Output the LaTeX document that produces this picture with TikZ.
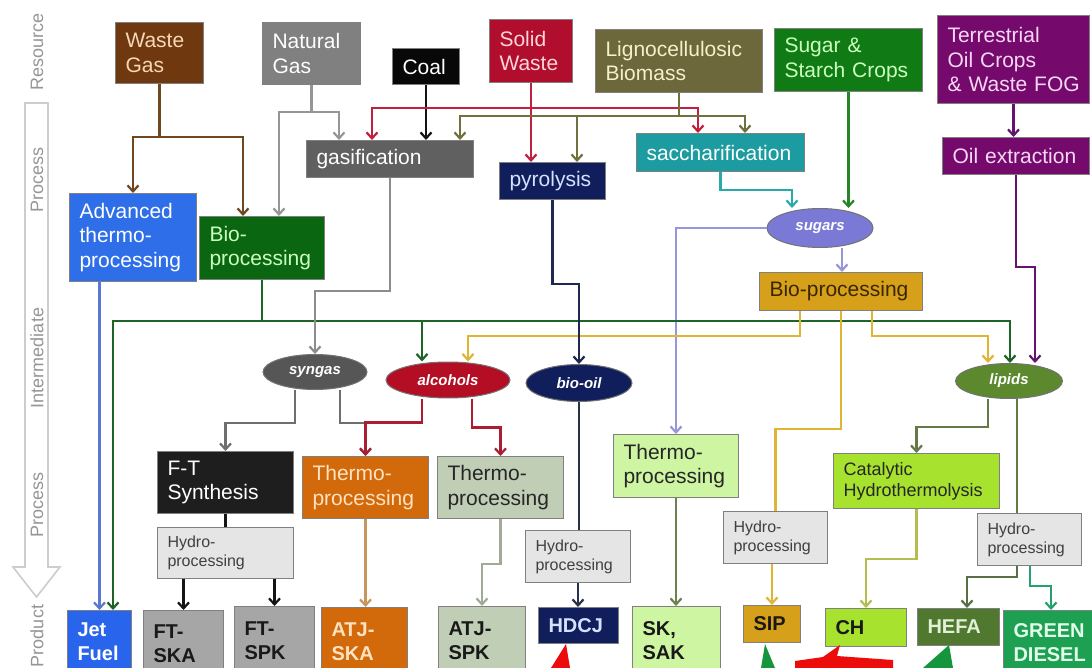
\documentclass[tikz,border=0pt]{standalone}
\usepackage{fontspec}
\setmainfont{Liberation Sans}
\usetikzlibrary{arrows.meta, shapes.geometric}
% box fills
\definecolor{wasteBrown}{RGB}{112, 56, 14}
\definecolor{natGray}{RGB}{128, 128, 128}
\definecolor{coalBlack}{RGB}{8, 8, 8}
\definecolor{solidRed}{RGB}{176, 14, 44}
\definecolor{lignoOlive}{RGB}{108, 104, 60}
\definecolor{sugarGreen}{RGB}{16, 122, 20}
\definecolor{oilPurple}{RGB}{118, 10, 108}
\definecolor{gasGray}{RGB}{96, 96, 96}
\definecolor{pyroNavy}{RGB}{16, 30, 92}
\definecolor{sacchTeal}{RGB}{28, 156, 160}
\definecolor{advBlue}{RGB}{46, 110, 232}
\definecolor{bioGreen}{RGB}{10, 102, 16}
\definecolor{sugarsBlue}{RGB}{122, 122, 214}
\definecolor{bioGold}{RGB}{214, 160, 26}
\definecolor{syngasGray}{RGB}{86, 86, 86}
\definecolor{alcRed}{RGB}{180, 14, 36}
\definecolor{lipidGreen}{RGB}{92, 136, 46}
\definecolor{ftBlack}{RGB}{30, 30, 30}
\definecolor{thermoOrange}{RGB}{210, 106, 12}
\definecolor{thermoSage}{RGB}{192, 206, 182}
\definecolor{thermoLight}{RGB}{206, 245, 162}
\definecolor{catLime}{RGB}{166, 226, 46}
\definecolor{hydroGray}{RGB}{229, 229, 229}
\definecolor{jetBlue}{RGB}{40, 100, 236}
\definecolor{ftGray}{RGB}{166, 166, 166}
\definecolor{hefaGreen}{RGB}{80, 120, 46}
\definecolor{dieselGreen}{RGB}{30, 160, 82}
\definecolor{hiRed}{RGB}{236, 12, 12}
\definecolor{hiGreen}{RGB}{22, 150, 60}
% text tints
\definecolor{wasteText}{RGB}{246, 216, 182}
\definecolor{solidText}{RGB}{255, 212, 218}
\definecolor{lignoText}{RGB}{246, 240, 202}
\definecolor{sugarText}{RGB}{202, 255, 190}
\definecolor{oilText}{RGB}{246, 216, 246}
\definecolor{pyroText}{RGB}{212, 226, 255}
\definecolor{goldText}{RGB}{58, 38, 0}
\definecolor{orangeText}{RGB}{255, 226, 192}
\definecolor{hefaText}{RGB}{226, 240, 216}
\definecolor{dieselText}{RGB}{226, 255, 236}
% connector colours
\definecolor{wasteLine}{RGB}{112, 72, 32}
\definecolor{natLine}{RGB}{150, 150, 150}
\definecolor{coalLine}{RGB}{20, 20, 20}
\definecolor{solidLine}{RGB}{192, 32, 62}
\definecolor{lignoLine}{RGB}{112, 112, 62}
\definecolor{sugarLine}{RGB}{40, 132, 40}
\definecolor{oilLine}{RGB}{100, 20, 110}
\definecolor{sacchLine}{RGB}{40, 170, 170}
\definecolor{sugarsLine}{RGB}{150, 150, 216}
\definecolor{advLine}{RGB}{90, 120, 210}
\definecolor{bioLine}{RGB}{30, 100, 40}
\definecolor{goldLine}{RGB}{222, 182, 52}
\definecolor{gasLine}{RGB}{140, 140, 140}
\definecolor{pyroLine}{RGB}{30, 40, 80}
\definecolor{synLine}{RGB}{110, 110, 110}
\definecolor{alcLine}{RGB}{170, 30, 50}
\definecolor{bioOilLine}{RGB}{40, 50, 70}
\definecolor{lightLine}{RGB}{110, 130, 80}
\definecolor{orangeLine}{RGB}{200, 150, 92}
\definecolor{sageLine}{RGB}{160, 170, 150}
\definecolor{ftLine}{RGB}{20, 20, 20}
\definecolor{lipidLine}{RGB}{100, 122, 70}
\definecolor{catLine}{RGB}{180, 190, 80}
\definecolor{hefaLine}{RGB}{90, 110, 70}
\definecolor{dieselLine}{RGB}{40, 160, 110}
\definecolor{stageLine}{RGB}{205, 205, 205}
\definecolor{stageText}{RGB}{150, 150, 150}
\newcommand{\fbig}{\fontsize{10.5}{12.3}\selectfont}
\newcommand{\fcat}{\fontsize{9}{10.5}\selectfont}
\newcommand{\fhyd}{\fontsize{8}{9.5}\selectfont}
\newcommand{\fell}{\fontsize{7.5}{8}\selectfont\bfseries\itshape}
\newcommand{\fprod}{\fontsize{10}{11.8}\selectfont\bfseries}
\newcommand{\fside}{\fontsize{9}{10}\selectfont}
\tikzset{
  procbox/.style 2 args={
    rectangle,
    draw=black!50,
    line width=0.5pt,
    anchor=north west,
    minimum height=#2*0.5pt,
    text width=#1*0.5pt-10pt,
    inner xsep=5pt,
    inner ysep=0pt,
    align=left,
    font=\fbig
  },
  hydbox/.style 2 args={
    procbox={#1}{#2},
    fill=hydroGray,
    text=black!75,
    font=\fhyd
  },
  prodbox/.style 2 args={
    procbox={#1}{#2},
    font=\fprod
  },
  midnode/.style 2 args={
    ellipse,
    draw=black!55,
    line width=0.5pt,
    minimum width=#1*0.5pt,
    minimum height=#2*0.5pt,
    inner sep=0pt,
    font=\fell
  },
  link/.style={
    line width=1.1pt,
    -{Straight Barb[length=3pt, width=5.5pt]}
  },
  wire/.style={
    line width=1.1pt
  },
  stagelabel/.style={
    rotate=90,
    text=stageText,
    font=\fside
  }
}
\begin{document}
\begin{tikzpicture}[x=0.5pt, y=-0.5pt]
  \useasboundingbox (0,0) rectangle (1092,668);
  \clip (0,0) rectangle (1092,668);
  \fill[white] (0,0) rectangle (1092,668);

  % Stage arrow
  \draw[stageLine, line width=0.8pt, fill=white] (25,103) -- (48,103) -- (48,567) -- (60,567) -- (36.5,597) -- (13,567) -- (25,567) -- cycle;
  \node[stagelabel] (lblres) at (37,52) {Resource};
  \node[stagelabel] (lblproca) at (37,180) {Process};
  \node[stagelabel] (lblinter) at (37,358) {Intermediate};
  \node[stagelabel] (lblprocb) at (37,505) {Process};
  \node[stagelabel] (lblprod) at (37,636) {Product};

  % Resources
  \node[procbox={88}{61}, fill=wasteBrown, text=wasteText] (wg) at (115,22) {Waste\\Gas};
  \node[procbox={98}{62}, fill=natGray, text=white] (ng) at (262,22) {Natural\\Gas};
  \node[procbox={67}{36}, fill=coalBlack, text=white] (coal) at (392,48) {Coal};
  \node[procbox={83}{63}, fill=solidRed, text=solidText] (sw) at (489,19) {Solid\\Waste};
  \node[procbox={167}{63}, fill=lignoOlive, text=lignoText] (lig) at (595,29) {Lignocellulosic\\Biomass};
  \node[procbox={148}{63}, fill=sugarGreen, text=sugarText] (sc) at (774,28) {Sugar~\&\\Starch~Crops};
  \node[procbox={152}{88}, fill=oilPurple, text=oilText] (toc) at (937,15) {Terrestrial\\Oil~Crops\\\&~Waste~FOG};

  % First processes
  \node[procbox={167}{37}, fill=gasGray, text=white] (gas) at (306,140) {gasification};
  \node[procbox={106}{37}, fill=pyroNavy, text=pyroText] (pyro) at (499,162) {pyrolysis};
  \node[procbox={168}{38}, fill=sacchTeal, text=white] (sacch) at (636,133) {saccharification};
  \node[procbox={147}{37}, fill=oilPurple, text=oilText] (oex) at (942,137) {Oil extraction};
  \node[procbox={127}{88}, fill=advBlue, text=white] (adv) at (69,193) {Advanced\\thermo-\\processing};
  \node[procbox={125}{63}, fill=bioGreen, text=sugarText] (bio) at (199,216) {Bio-\\processing};

  % Intermediates
  \node[midnode={106}{39}, fill=sugarsBlue, text=white] (sug) at (820,228) {sugars};
  \node[procbox={163}{38}, fill=bioGold, text=goldText] (bgold) at (759,272) {Bio-processing};
  \node[midnode={104}{35}, fill=syngasGray, text=white] (syn) at (315,372) {syngas};
  \node[midnode={124}{36}, fill=alcRed, text=white] (alc) at (448,380) {alcohols};
  \node[midnode={106}{37}, fill=pyroNavy, text=white] (bo) at (579,383) {bio-oil};
  \node[midnode={107}{35}, fill=lipidGreen, text=white] (lip) at (1009,381) {lipids};

  % Second processes
  \node[procbox={136}{62}, fill=ftBlack, text=white] (ft) at (157,451) {F-T\\Synthesis};
  \node[procbox={126}{62}, fill=thermoOrange, text=orangeText] (tpo) at (302,456) {Thermo-\\processing};
  \node[procbox={126}{62}, fill=thermoSage, text=black!85] (tps) at (437,456) {Thermo-\\processing};
  \node[procbox={125}{63}, fill=thermoLight, text=black!85] (tpl) at (613,434) {Thermo-\\processing};
  \node[procbox={166}{55}, fill=catLime, text=black!85, font=\fcat] (cat) at (833,453) {Catalytic\\Hydrothermolysis};
  \node[hydbox={136}{51}] (hft) at (157,527) {Hydro-\\processing};
  \node[hydbox={105}{52}] (hhd) at (525,530) {Hydro-\\processing};
  \node[hydbox={104}{52}] (hsip) at (723,511) {Hydro-\\processing};
  \node[hydbox={104}{52}] (hhe) at (977,513) {Hydro-\\processing};

  % Products
  \node[prodbox={64}{62}, fill=jetBlue, text=white] (jet) at (67,610) {Jet\\Fuel};
  \node[prodbox={80}{66}, fill=ftGray, text=black!90] (ftska) at (143,610) {FT-\\SKA};
  \node[prodbox={80}{68}, fill=ftGray, text=black!90] (ftspk) at (234,606) {FT-\\SPK};
  \node[prodbox={86}{68}, fill=thermoOrange, text=orangeText] (atjska) at (321,607) {ATJ-\\SKA};
  \node[prodbox={87}{68}, fill=thermoSage, text=black!90] (atjspk) at (438,606) {ATJ-\\SPK};
  \node[prodbox={80}{36}, fill=pyroNavy, text=pyroText] (hdcj) at (538,607) {HDCJ};
  \node[prodbox={88}{68}, fill=thermoLight, text=black!90] (sk) at (632,606) {SK,\\SAK};
  \node[prodbox={57}{37}, fill=bioGold, text=black!90] (sip) at (743,605) {SIP};
  \node[prodbox={81}{38}, fill=catLime, text=black!90] (ch) at (825,608) {CH};
  \node[prodbox={82}{37}, fill=hefaGreen, text=hefaText] (hefa) at (917,608) {HEFA};
  \node[prodbox={95}{64}, fill=dieselGreen, text=dieselText] (gd) at (1003,610) {GREEN\\DIESEL};

  % Resource feeds
  \draw[link, wasteLine] (wg.south) -- (wg.south |- 0,137) -| (adv.north);
  \draw[link, wasteLine] (wg.south |- 0,137) -| (243,0 |- bio.north);
  \draw[link, natLine] (ng.south) -- (ng.south |- 0,112) -| (339,0 |- gas.north);
  \draw[link, natLine] (ng.south |- 0,112) -| (279,0 |- bio.north);
  \draw[link, coalLine] (coal.south) -- (coal.south |- gas.north);
  \draw[link, solidLine] (sw.south) -- (sw.south |- pyro.north);
  \draw[link, solidLine] (sw.south |- 0,108) -| (372,0 |- gas.north);
  \draw[link, solidLine] (sw.south |- 0,108) -| (698,0 |- sacch.north);
  \coordinate (ligbus) at (lig.south |- 0,116);
  \draw[link, lignoLine] (lig.south) -- (ligbus) -| (460,0 |- gas.north);
  \draw[link, lignoLine] (ligbus) -| (745,0 |- sacch.north);
  \draw[link, lignoLine] (ligbus -| 577,0) -- (577,0 |- pyro.north);
  \draw[link, sugarLine] (sc.south) -- (sc.south |- sug.north);
  \draw[link, oilLine] (toc.south) -- (toc.south |- oex.north);
  \draw[link, oilLine] (oex.south) -- (oex.south |- 0,267) -| (1035,0 |- lip.north);
  \draw[link, sacchLine] (sacch.south) -- (sacch.south |- 0,190) -| (792,0 |- sug.north);

  % Sugars and bio-processing
  \draw[link, sugarsLine] (sug.west) -| (tpl.north);
  \draw[link, sugarsLine] (842,0 |- sug.south) -- (842,0 |- bgold.north);
  \draw[link, advLine] (jet.north |- adv.south) -- (jet.north);
  \coordinate (biobus) at (bio.south |- 0,321);
  \draw[wire, bioLine] (bio.south) -- (biobus);
  \draw[link, bioLine] (biobus) -| (113,0 |- jet.north);
  \draw[link, bioLine] (biobus) -| (1010,0 |- lip.north);
  \draw[link, bioLine] (biobus -| 422,0) -- (422,0 |- alc.north);
  \draw[link, goldLine] (800,0 |- bgold.south) -- ++(0,25) -| (468,0 |- alc.north);
  \draw[wire, goldLine] (bgold.south) -- ++(0,118) -| (hsip.north);
  \draw[link, goldLine] (872,0 |- bgold.south) -- ++(0,25) -| (988,0 |- lip.north);

  % Intermediates to processes
  \draw[link, gasLine] (gas.south) -- ++(0,113) -| (syn.north);
  \draw[link, pyroLine] (pyro.south) -- ++(0,84) -| (bo.north);
  \draw[link, synLine] (295,0 |- syn.south) -- ++(0,33) -| (ft.north);
  \draw[link, synLine] (340,0 |- syn.south) -- ++(0,33) -| (tpo.north);
  \draw[link, alcLine] (422,0 |- alc.south) -- ++(0,24) -| (tpo.north);
  \draw[link, alcLine] (472,0 |- alc.south) -- ++(0,29) -| (tps.north);
  \draw[wire, bioOilLine] (bo.south) -- (bo.south |- hhd.north);
  \draw[link, bioOilLine] (hhd.south) -- (hhd.south |- hdcj.north);
  \draw[link, lipidLine] (988,0 |- lip.south) -- ++(0,28) -| (cat.north);
  \draw[wire, lipidLine] (1017,0 |- lip.south) -- (1017,0 |- hhe.north);

  % Processes to products
  \draw[link, lightLine] (tpl.south) -- (tpl.south |- sk.north);
  \draw[link, orangeLine] (tpo.south) -- (tpo.south |- atjska.north);
  \draw[link, sageLine] (tps.south) -- ++(0,45) -| (atjspk.north);
  \draw[wire, ftLine] (ft.south) -- (ft.south |- hft.north);
  \draw[link, ftLine] (ftska.north |- hft.south) -- (ftska.north);
  \draw[link, ftLine] (ftspk.north |- hft.south) -- (ftspk.north);
  \draw[link, goldLine] (sip.north |- hsip.south) -- (sip.north);
  \draw[link, catLine] (cat.south) -- ++(0,50) -| (ch.north);
  \draw[link, hefaLine] (1017,0 |- hhe.south) -- ++(0,11) -| (967,0 |- hefa.north);
  \draw[link, dieselLine] (1030,0 |- hhe.south) -- ++(0,20) -| (1051,0 |- gd.north);

  % Highlight arrow heads at bottom edge
  \fill[hiRed] (566,644) -- (551,668) -- (570,668) -- cycle;
  \fill[hiGreen] (765,644) -- (761,668) -- (775,668) -- cycle;
  \fill[hiRed] (795,668) -- (795,661) -- (823,657) -- (840,645) -- (837,656) -- (893,660) -- (893,668) -- cycle;
  \fill[hiGreen] (949,645) -- (923,668) -- (953,668) -- cycle;
\end{tikzpicture}
\end{document}
